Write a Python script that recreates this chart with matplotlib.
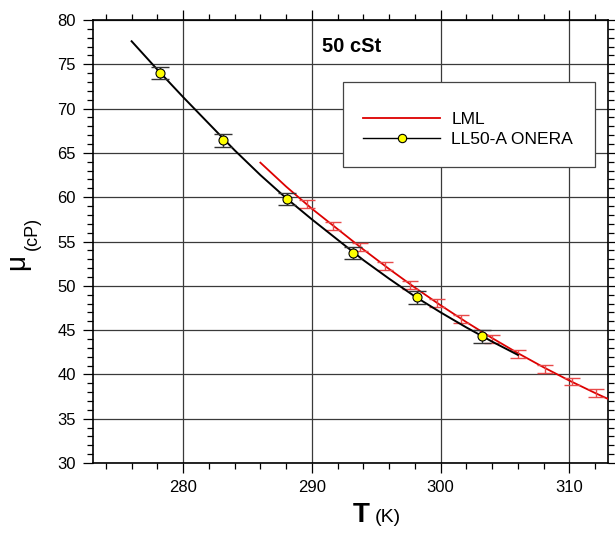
import numpy as np
import matplotlib.pyplot as plt
from matplotlib.lines import Line2D
from matplotlib.patches import Rectangle
from matplotlib.ticker import MultipleLocator

plt.rcParams['font.family'] = ['Liberation Sans', 'DejaVu Sans']

# ONERA measurements (LL50-A) with error bars
onera_T = [278.2, 283.1, 288.1, 293.2, 298.2, 303.2]
onera_mu = [74.0, 66.4, 59.8, 53.7, 48.7, 44.3]
onera_err = [0.7, 0.7, 0.7, 0.7, 0.7, 0.7]

# fitted curve through the ONERA points
fit_T = [276, 278, 280, 282, 284, 286, 288, 290, 292, 294, 296, 298, 300, 302, 304, 306]
fit_mu = [77.6, 74.4, 71.3, 68.3, 65.3, 62.5, 59.9, 57.5, 55.2, 52.9, 50.8, 48.8, 47.0, 45.3, 43.7, 42.2]

# LML measurements
lml_T = [289.6, 291.65, 293.7, 295.7, 297.6, 299.7, 301.6, 304.0, 306.0, 308.1, 310.2, 312.1]
lml_mu = [59.2, 56.8, 54.4, 52.2, 50.1, 48.1, 46.2, 44.0, 42.3, 40.6, 39.2, 37.9]
lml_err = [0.45] * 12

# LML fitted line
lml_fit_T = [286, 288, 290, 292, 294, 296, 298, 300, 302, 304, 306, 308, 310, 312, 313.5]
lml_fit_mu = [63.9, 61.2, 58.7, 56.4, 54.1, 51.9, 49.8, 47.8, 45.9, 44.1, 42.4, 40.8, 39.3, 37.9, 36.9]

W, H = 615, 534
fig = plt.figure(figsize=(W / 100, H / 100), dpi=100)
ax = fig.add_axes([93 / W, 1 - 463 / H, 515 / W, 443 / H])

ax.grid(True, which='major', color='#3a3a3a', linewidth=0.9, zorder=0)
ax.set_axisbelow(True)

# LML
ax.plot(lml_fit_T, lml_fit_mu, color='#dd0000', linewidth=1.3, zorder=3, clip_on=True)
ax.errorbar(lml_T, lml_mu, yerr=lml_err, fmt='none', ecolor='#e84a4a',
            elinewidth=1.0, capsize=5.5, capthick=1.0, zorder=3)

# ONERA
ax.plot(fit_T, fit_mu, color='black', linewidth=1.4, zorder=4)
ax.errorbar(onera_T, onera_mu, yerr=onera_err, fmt='none', ecolor='#333333',
            elinewidth=1.0, capsize=6.5, capthick=1.0, zorder=4)
ax.plot(onera_T, onera_mu, 'o', markersize=6.5, markerfacecolor='#ffff00',
        markeredgecolor='black', markeredgewidth=0.8, zorder=5)

ax.set_xlim(273, 313)
ax.set_ylim(30, 80)
ax.xaxis.set_major_locator(MultipleLocator(10))
ax.xaxis.set_minor_locator(MultipleLocator(2))
ax.yaxis.set_major_locator(MultipleLocator(5))
ax.yaxis.set_minor_locator(MultipleLocator(1))
ax.tick_params(which='both', direction='out', top=True, right=True, width=0.9,
               labelsize=12)
ax.tick_params(which='major', length=7.5, pad=5)
ax.tick_params(which='minor', length=4.5)
for sp in ax.spines.values():
    sp.set_linewidth(1.2)

ax.text(293.1, 77.0, '50 cSt', ha='center', va='center', fontsize=14.5,
        fontweight='bold', zorder=6)

# legend box
ax.add_patch(Rectangle(((343 - 93) / 515, 1 - 62 / 443), (595 - 343) / 515, -85 / 443,
                       transform=ax.transAxes, facecolor='white', edgecolor='#444444',
                       linewidth=0.9, zorder=6))
handles = [Line2D([], [], color='#dd0000', linewidth=1.3),
           Line2D([], [], color='black', linewidth=1.0, marker='o', markersize=6,
                  markerfacecolor='#ffff00', markeredgecolor='black', markeredgewidth=0.8)]
leg = ax.legend(handles, ['LML', 'LL50-A ONERA'], loc='center left',
                bbox_to_anchor=((363 - 93) / 515, 1 - (129.5 - 20) / 443),
                frameon=False, fontsize=12.6, handlelength=4.4, handletextpad=0.65,
                labelspacing=0.3, borderpad=0, borderaxespad=0)
leg.set_zorder(7)

# axis titles
fig.text(370 / W, 1 - 522 / H, 'T', fontsize=20, fontweight='bold', ha='right', va='baseline')
fig.text(375 / W, 1 - 522 / H, '(K)', fontsize=14, ha='left', va='baseline')
fig.text(24 / W, 1 - 270 / H, 'μ', fontsize=20, rotation=90, rotation_mode='anchor',
         ha='left', va='baseline')
fig.text(37 / W, 1 - 250 / H, '(cP)', fontsize=13, rotation=90, rotation_mode='anchor',
         ha='left', va='baseline')

fig.savefig('out.png', dpi=100)
